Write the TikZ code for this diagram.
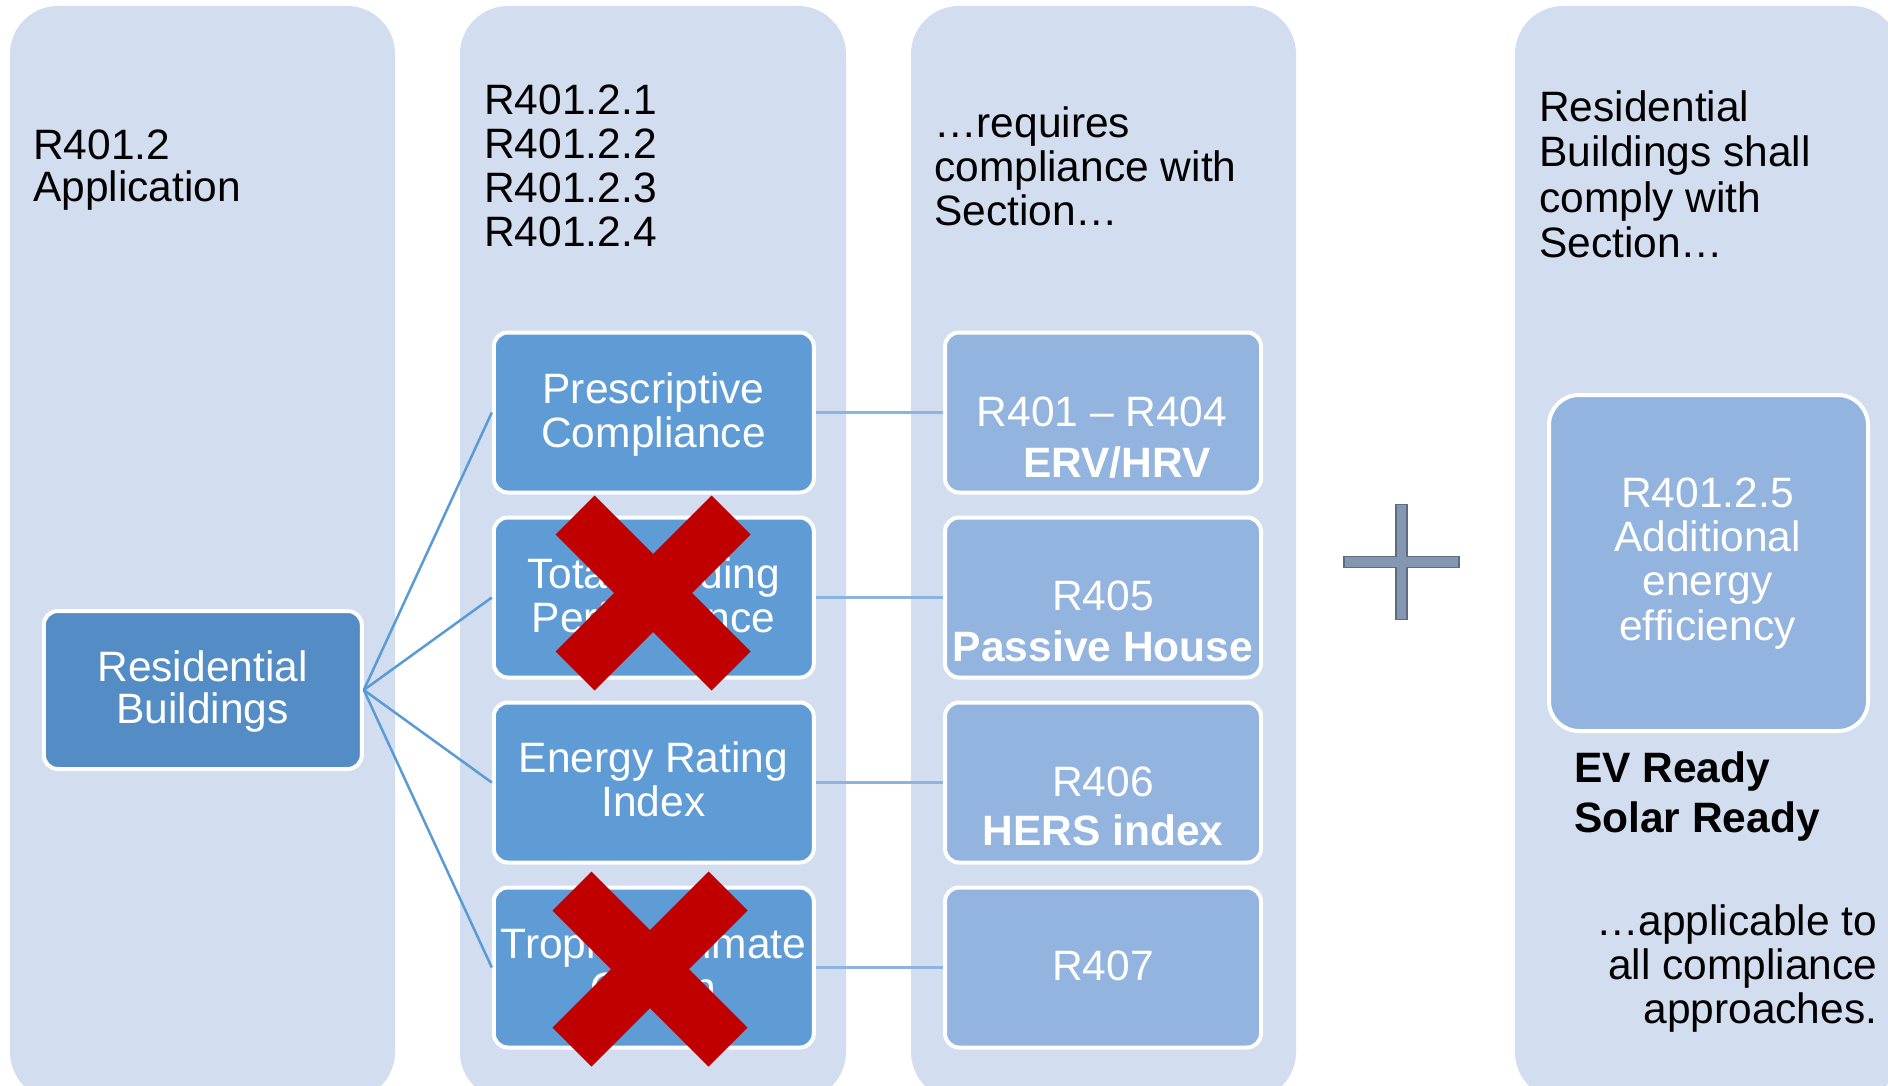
\documentclass[tikz,border=0pt]{standalone}
\usepackage{fontspec}
\setmainfont{Liberation Sans}
\definecolor{panel}{HTML}{D2DEEF}
\definecolor{rootfill}{HTML}{548DC5}
\definecolor{optfill}{HTML}{5F9CD6}
\definecolor{secfill}{HTML}{93B4DF}
\definecolor{linkdark}{HTML}{5B9BD5}
\definecolor{linklight}{HTML}{8DB3E2}
\definecolor{crossred}{HTML}{C00000}
\definecolor{plusfill}{HTML}{8597B0}
\definecolor{plusedge}{HTML}{5C6C82}
\begin{document}
\begin{tikzpicture}[x=1pt,y=-1pt,
  panelbg/.style={fill=panel, rounded corners=48pt},
  boxbase/.style={rectangle, rounded corners=14pt, draw=white, line width=4pt, inner sep=0pt},
  rootbox/.style={boxbase, fill=rootfill, minimum width=318pt, minimum height=158pt},
  optbox/.style={boxbase, fill=optfill, minimum width=320pt, minimum height=160pt},
  secbox/.style={boxbase, fill=secfill, minimum width=316pt, minimum height=160pt},
  bigbox/.style={boxbase, fill=secfill, rounded corners=30pt, minimum width=319pt, minimum height=336pt},
  headtxt/.style={font=\fontsize{42.5}{44}\selectfont, inner sep=0pt, align=left, anchor=base west, text=black},
  boxtxt/.style={font=\fontsize{42.5}{44}\selectfont, inner sep=0pt, align=center, anchor=base, text=white},
  link/.style={draw=linkdark, line width=2.5pt},
  sublink/.style={draw=linklight, line width=3pt},
  crossmark/.style={fill=crossred},
]
\useasboundingbox (0,0) rectangle (1888,1086);
\clip (0,0) rectangle (1888,1086);
\fill[white] (0,0) rectangle (1888,1086);

% four background panels
\fill[panelbg] (10,6) rectangle (395,1100);
\fill[panelbg] (460,6) rectangle (846,1100);
\fill[panelbg] (911,6) rectangle (1296,1100);
\fill[panelbg] (1515,6) rectangle (1900,1100);

% panel headings (each node is anchored at the baseline of its last line)
\node[headtxt, font=\fontsize{42.5}{42}\selectfont] (h1) at (33,202) {R401.2\\Application};
\node[headtxt] (h2) at (484,247) {R401.2.1\\R401.2.2\\R401.2.3\\R401.2.4};
\node[headtxt] (h3) at (934,225.5) {…requires\\compliance with\\Section…};
\node[headtxt, font=\fontsize{42.5}{45.5}\selectfont] (h4) at (1539,258) {Residential\\Buildings shall\\comply with\\Section…};

% root and option boxes
\node[rootbox] (root) at (202.8,690) {};
\node[optbox] (opt1) at (653.8,412.5) {};
\node[optbox] (opt2) at (653.8,597.5) {};
\node[optbox] (opt3) at (653.8,782.5) {};
\node[optbox] (opt4) at (653.8,967.5) {};

% section boxes
\node[secbox] (sec1) at (1103,412.5) {};
\node[secbox] (sec2) at (1103,597.5) {};
\node[secbox] (sec3) at (1103,782.5) {};
\node[secbox] (sec4) at (1103,967.5) {};

\node[bigbox] (extra) at (1708.5,563) {};

% connectors
\foreach \i in {1,...,4} \draw[link] (root.east) -- (opt\i.west);
\foreach \i in {1,...,4} \draw[sublink] (opt\i.east) -- (sec\i.west);

% box labels
\node[boxtxt, font=\fontsize{42.5}{42.3}\selectfont] (rootlbl) at (202.5,723.3) {Residential\\Buildings};
\node[boxtxt] (opt1lbl) at (653.5,447) {Prescriptive\\Compliance};
\node[boxtxt] (opt2lbl) at (653.5,632.5) {Total Building\\Performance};
\node[boxtxt] (opt3lbl) at (653.5,816.7) {Energy Rating\\Index};
\node[boxtxt] (opt4lbl) at (653.5,1002.6) {Tropical Climate\\Option};

\node[boxtxt] (sec1lbl) at (1102,477) {R401 – R404\\[7pt]\hspace*{30pt}\textbf{ERV/HRV}};
\node[boxtxt] (sec2lbl) at (1103,661) {R405\\[7pt]\textbf{Passive House}};
\node[boxtxt] (sec3lbl) at (1103,845) {R406\\[5pt]\textbf{HERS index}};
\node[boxtxt] (sec4lbl) at (1103,980) {R407};

\node[boxtxt, font=\fontsize{42.5}{44.3}\selectfont] (extralbl) at (1707.5,640) {R401.2.5\\Additional\\energy\\efficiency};

% notes under the extra box
\node[headtxt, font=\fontsize{42.5}{50}\selectfont\bfseries] (ready) at (1574,832) {EV Ready\\Solar Ready};
\node[font=\fontsize{42.5}{44}\selectfont, inner sep=0pt, align=right, anchor=base east] (applies) at (1877.5,1023) {…applicable to\\all compliance\\approaches.};

% plus sign
\filldraw[fill=plusfill, draw=plusedge, line width=1.5pt]
  (1396,504.5) -- (1407,504.5) -- (1407,556.5) -- (1459,556.5) -- (1459,567.5)
  -- (1407,567.5) -- (1407,619.5) -- (1396,619.5) -- (1396,567.5) -- (1344,567.5)
  -- (1344,556.5) -- (1396,556.5) -- cycle;

% red crosses over the excluded options
\foreach \cx/\cy in {653/593, 650/969}
  \fill[crossmark, shift={(\cx,\cy)}]
    (-58.5,-97.5) -- (0,-39) -- (58.5,-97.5) -- (97.5,-58.5) -- (39,0) -- (97.5,58.5)
    -- (58.5,97.5) -- (0,39) -- (-58.5,97.5) -- (-97.5,58.5) -- (-39,0) -- (-97.5,-58.5) -- cycle;
\end{tikzpicture}
\end{document}
